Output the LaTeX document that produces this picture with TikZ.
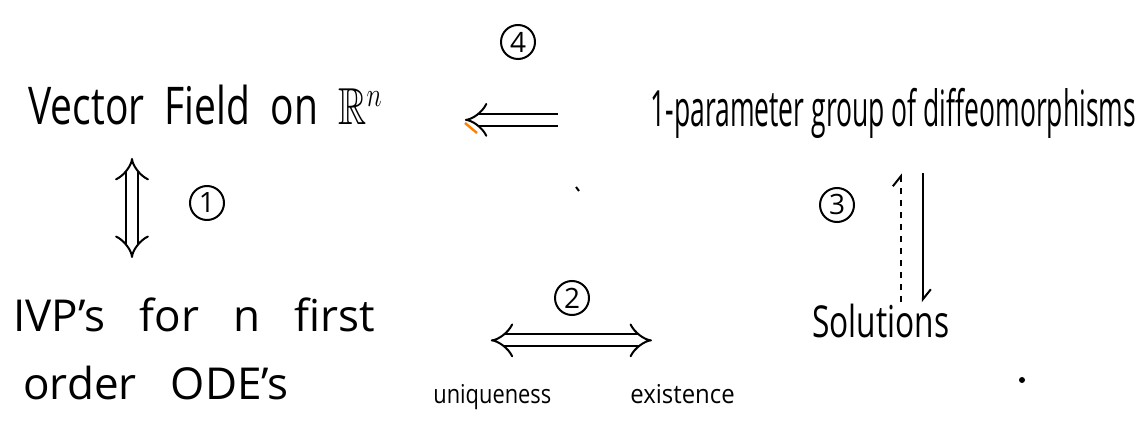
\documentclass[tikz,border=0pt]{standalone}
\usepackage{fontspec}
\setmainfont{Open Sans}
\usepackage{amssymb}
\usepackage{graphicx}
\usetikzlibrary{arrows.meta,positioning}

\begin{document}
\begin{tikzpicture}[
    x=0.5pt,y=-0.5pt,
    every node/.style={inner sep=0pt,font=\fontsize{22}{26}\selectfont},
    big/.style={font=\fontsize{26}{30}\selectfont},
    small/.style={font=\fontsize{13}{15}\selectfont},
    num/.style={draw,circle,line width=1pt,minimum size=17pt,font=\fontsize{14}{16}\selectfont},
    dimp/.style={double,double distance=5pt,line width=1pt,-{Implies}},
    dimpboth/.style={dimp,{Implies}-{Implies}},
    thin/.style={line width=1pt},
    barb/.style={-{Straight Barb[left,length=5pt,width=8pt]}}
  ]
  \useasboundingbox (0,0) rectangle (1141,427);
  % the four objects
  \node[big,anchor=base west] (vf) at (28,125) {\scalebox{0.75}[1]{Vector\ \ Field\ \ on\ \ $\mathbb{R}^{n}$}};
  \node[font=\fontsize{25}{30}\selectfont,anchor=base west] (param) at (650,127) {\scalebox{0.53}[1]{1-parameter group of diffeomorphisms}};
  \node[anchor=base west] (ivp) at (13,332) {IVP's\ \ \ for\ \ \ n\ \ \ first};
  \node[anchor=base west] (ode) at (23,400) {order\ \ \ ODE's};
  \node[anchor=base west] (sol) at (812,338) {\scalebox{0.72}[1]{Solutions}};
  \node[small,anchor=base west] (uniq) at (433,403) {\scalebox{0.84}[1]{uniqueness}};
  \node[small,anchor=base west] (exist) at (630,403) {\scalebox{0.92}[1]{existence}};
  % circled numbers
  \node[num] (n1) at (207,203) {1};
  \node[num] (n2) at (572,298) {2};
  \node[num] (n3) at (837,205) {3};
  \node[num] (n4) at (518,42) {4};
  % arrows
  \draw[orange,line width=1.2pt] (465,123) -- (477,133);
  \coordinate (p4) at ([yshift=-3pt]param.west);
  \draw[dimp,shorten <=46pt,shorten >=41pt] (p4) -- (p4 -| vf.east);
  \draw[dimpboth,shorten <=16pt,shorten >=20pt] ([xshift=52pt]vf.south west) -- ([xshift=59.5pt]ivp.north west);
  \coordinate (m2) at ([yshift=-12.5pt]ivp.east);
  \draw[dimpboth,shorten <=57.5pt,shorten >=80pt] (m2) -- (m2 -| sol.west);
  \coordinate (s3) at ([xshift=10pt]sol.north);
  \coordinate (t3) at ([xshift=21pt]sol.north);
  \draw[thin,dashed,barb,shorten <=1pt,shorten >=17pt] (s3) -- (s3 |- param.south);
  \draw[thin,barb,shorten <=17pt,shorten >=1pt] (t3 |- param.south) -- (t3);
  % stray marks
  \fill (1022,380) circle (1.5pt);
  \draw[thin] (576,187) -- (579,191);
\end{tikzpicture}
\end{document}
